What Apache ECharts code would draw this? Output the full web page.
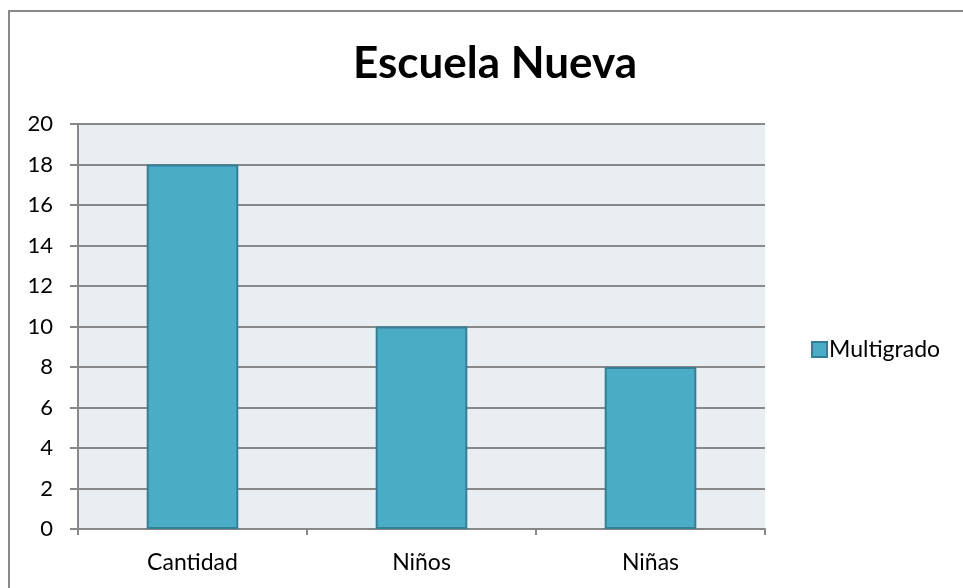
<!DOCTYPE html>
<html>
<head>
<meta charset="utf-8">
<script src="https://cdn.jsdelivr.net/npm/echarts@6/dist/echarts.min.js"></script>
<style>
  html, body { margin: 0; padding: 0; background: #fff; overflow: hidden; }
  #frame {
    position: absolute; left: 8px; top: 10px; width: 1000px; height: 620px;
    border-left: 2px solid #888; border-top: 2px solid #888;
  }
  #chart { position: absolute; left: 0; top: 0; width: 963px; height: 588px; }
</style>
</head>
<body>
<div id="frame"></div>
<div id="chart"></div>
<script>
const categories = ['Cantidad', 'Niños', 'Niñas']
const multigrado = [18, 10, 8]
const seriesName = 'Multigrado'

const font = 'Lato, "Open Sans", sans-serif'
const chart = echarts.init(document.getElementById('chart'), null, { renderer: 'canvas' })

chart.setOption({
  animation: false,
  title: {
    text: 'Escuela Nueva',
    left: 348,
    top: 37,
    textStyle: { fontFamily: font, fontSize: 44, fontWeight: 'bold', color: '#000' }
  },
  legend: {
    data: [seriesName],
    orient: 'vertical',
    left: 806,
    top: 333,
    itemWidth: 15,
    itemHeight: 15,
    icon: 'rect',
    textStyle: { fontFamily: font, fontSize: 23, color: '#000', padding: [0, 0, 0, -3] }
  },
  grid: {
    left: 78, top: 124, right: 198, bottom: 59,
    show: true,
    backgroundColor: '#E8EEF2',
    borderWidth: 0
  },
  xAxis: {
    type: 'category',
    data: categories,
    axisLine: { lineStyle: { color: '#888', width: 2 } },
    axisTick: { show: true, length: 6, lineStyle: { color: '#888', width: 2 } },
    axisLabel: { fontFamily: font, fontSize: 23, color: '#000', margin: 22 }
  },
  yAxis: {
    type: 'value',
    min: 0, max: 20, interval: 2,
    axisLine: { show: true, lineStyle: { color: '#888', width: 2 } },
    axisTick: { show: true, length: 8, lineStyle: { color: '#888', width: 2 } },
    splitLine: { lineStyle: { color: '#888', width: 2 } },
    axisLabel: { fontFamily: font, fontSize: 22, color: '#000', margin: 25 }
  },
  series: [{
    name: seriesName,
    type: 'bar',
    data: multigrado,
    barWidth: '40%',
    itemStyle: { color: '#4BACC6', borderColor: '#357F96', borderWidth: 2 }
  }]
})
</script>
</body>
</html>
